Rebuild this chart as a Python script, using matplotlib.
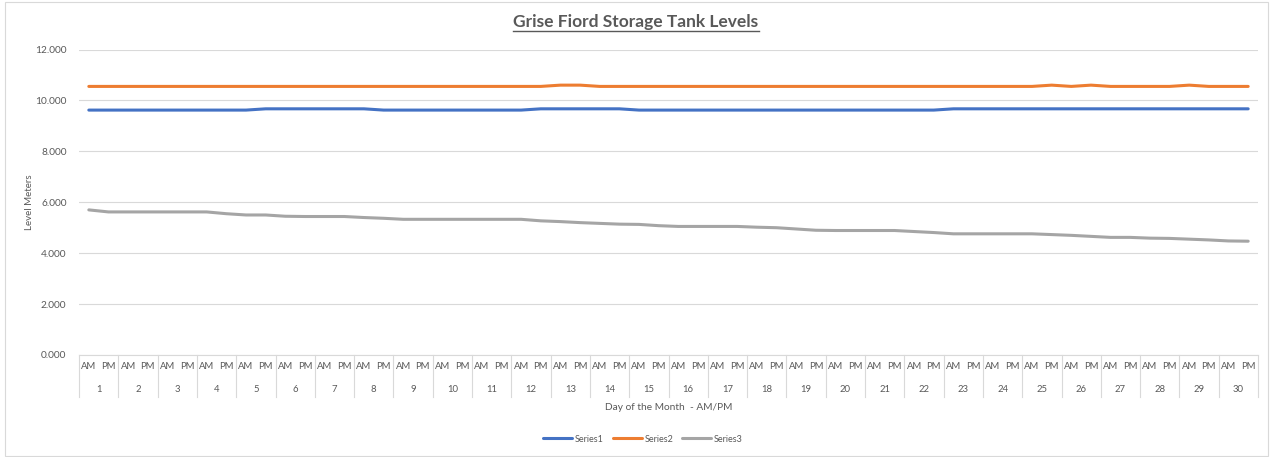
import matplotlib
matplotlib.use("Agg")
import matplotlib.pyplot as plt
from matplotlib.lines import Line2D
from matplotlib.patches import Rectangle
import matplotlib.transforms as mtransforms

plt.rcParams['font.family'] = ['Lato', 'DejaVu Sans']

days = list(range(1, 31))
periods = ["AM", "PM"]
series_names = ["Series1", "Series2", "Series3"]
colors = ["#4472C4", "#ED7D31", "#A5A5A5"]

series1 = ([9.62] * 9 + [9.67] * 6 + [9.62] * 8 + [9.67] * 5 + [9.62] * 16 + [9.67] * 16)
series2 = ([10.55] * 24 + [10.60, 10.60] + [10.55] * 23 + [10.60, 10.55, 10.60]
           + [10.55] * 4 + [10.60] + [10.55] * 3)
series3 = [5.70, 5.62, 5.62, 5.62, 5.62, 5.62, 5.62, 5.55, 5.50, 5.50,
           5.45, 5.44, 5.44, 5.44, 5.40, 5.37, 5.33, 5.33, 5.33, 5.33,
           5.33, 5.33, 5.33, 5.27, 5.24, 5.20, 5.17, 5.14, 5.13, 5.08,
           5.05, 5.05, 5.05, 5.05, 5.02, 5.00, 4.95, 4.90, 4.89, 4.89,
           4.89, 4.89, 4.85, 4.81, 4.76, 4.76, 4.76, 4.76, 4.76, 4.73,
           4.70, 4.66, 4.62, 4.62, 4.59, 4.58, 4.55, 4.52, 4.48, 4.47]

W, H = 1273, 457
fig = plt.figure(figsize=(W / 100, H / 100), dpi=100)
fig.patch.set_facecolor("white")

# plot area in pixels: x 79..1258, y 49.5..355
ax = fig.add_axes([79 / W, 1 - 355 / H, (1258 - 79) / W, (355 - 49.5) / H])

x = list(range(len(series1)))
for vals, name, c in zip([series1, series2, series3], series_names, colors):
    ax.plot(x, vals, color=c, lw=2.2, label=name, solid_capstyle="round")

ax.set_xlim(-0.5, len(x) - 0.5)
ax.set_ylim(0, 12)
ax.set_yticks([0, 2, 4, 6, 8, 10, 12])
ax.set_yticklabels([f"{v:.3f}" for v in [0, 2, 4, 6, 8, 10, 12]])
ax.grid(axis="y", color="#D9D9D9", lw=0.8)
ax.set_axisbelow(True)
for s in ["top", "right", "left"]:
    ax.spines[s].set_visible(False)
ax.spines["bottom"].set_color("#D9D9D9")
ax.spines["bottom"].set_linewidth(0.8)
ax.tick_params(axis="y", length=0, labelsize=7.3, labelcolor="#595959", pad=9)

ax.set_xticks(x)
ax.set_xticklabels([p for d in days for p in periods])
ax.tick_params(axis="x", length=0, labelsize=6.8, labelcolor="#595959", pad=5)

# day numbers and divider lines
trans = mtransforms.blended_transform_factory(ax.transData, ax.transAxes)
span = 355 - 49.5
for k, d in enumerate(days):
    ax.text(2 * k + 0.5, -(389 - 355) / span, str(d), transform=trans,
            ha="center", va="center", fontsize=6.8, color="#595959")
for k in range(len(days) + 1):
    ax.add_line(Line2D([2 * k - 0.5, 2 * k - 0.5], [0, -(397 - 355) / span],
                       transform=trans, color="#D9D9D9", lw=0.8, clip_on=False))

ax.text(0.5, -(408 - 355) / span, "Day of the Month  - AM/PM", transform=ax.transAxes,
        ha="center", va="center", fontsize=7.3, color="#595959")
fig.text(30 / W, 1 - 202 / H, "Level Meters", rotation=90, ha="center", va="center",
         fontsize=7, color="#595959")

title = fig.text(636 / W, 1 - 22 / H, "Grise Fiord Storage Tank Levels", ha="center",
                 va="center", fontsize=12.5, fontweight="bold", color="#595959")
fig.canvas.draw()
bb = title.get_window_extent(fig.canvas.get_renderer())
uy = (bb.y0 - 1) / H
fig.add_artist(Line2D([bb.x0 / W, bb.x1 / W], [uy, uy], color="#595959", lw=1))

leg = fig.legend(loc="center", bbox_to_anchor=(643 / W, 1 - 439 / H), ncol=3, frameon=False,
                 fontsize=6.5, handlelength=3.2, columnspacing=1.0, handletextpad=0.3)
for t in leg.get_texts():
    t.set_color("#595959")

fig.add_artist(Rectangle((5 / W, 1 / H), 1263 / W, 454 / H, transform=fig.transFigure,
                         fill=False, edgecolor="#D9D9D9", lw=0.8))

fig.savefig("out.png", dpi=100)
